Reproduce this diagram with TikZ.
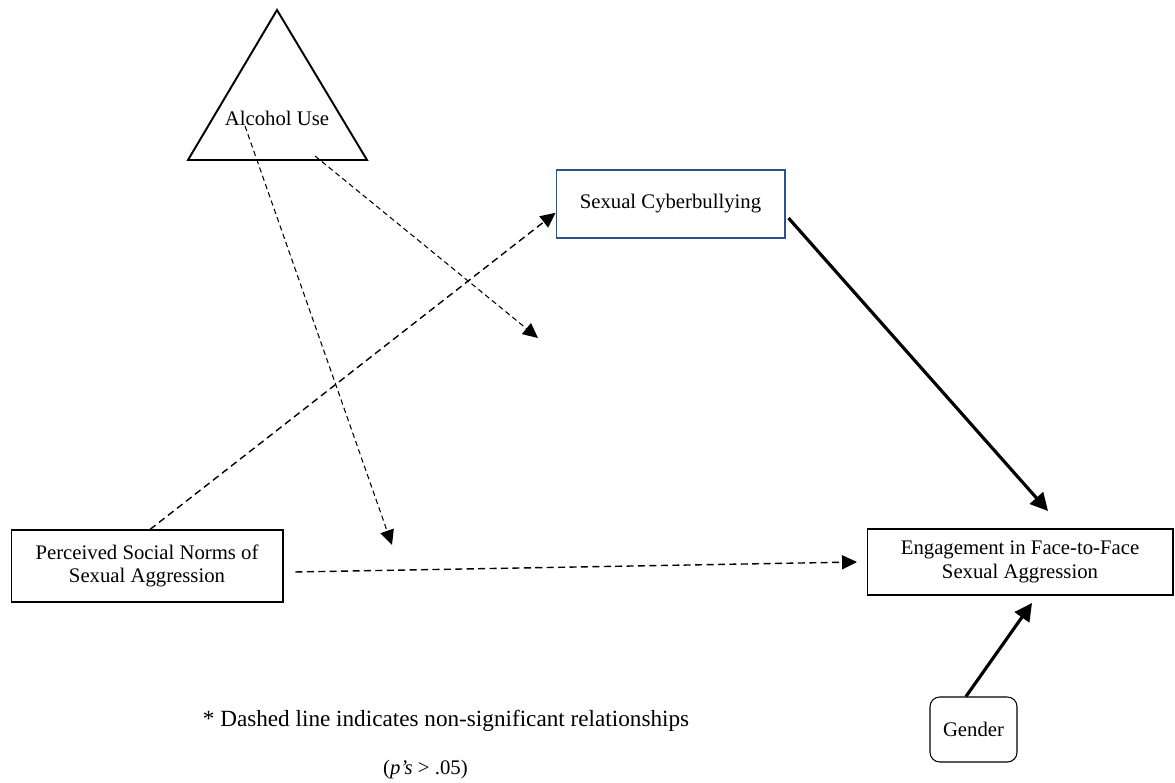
\documentclass[tikz,border=0pt]{standalone}
\usepackage{fontspec}
\setmainfont{Liberation Serif}
\usetikzlibrary{arrows.meta}
\definecolor{boxblue}{RGB}{47,82,143}
\tikzset{
	txt/.style={font=\fontsize{11.8}{13.5}\selectfont},
	box/.style={txt,draw,line width=0.6pt,align=center,inner sep=0pt},
	nsthin/.style={line width=0.6pt,dash pattern=on 3pt off 2pt,-{Triangle[length=8.5pt,width=8pt]}},
	ns/.style={line width=0.8pt,dash pattern=on 4pt off 2.5pt,-{Triangle[length=8.5pt,width=8pt]}},
	sig/.style={line width=1.8pt,-{Triangle[length=10pt,width=10pt]}}
}
\begin{document}
\begin{tikzpicture}[x=0.02cm,y=-0.02cm]
	\useasboundingbox (0,0) rectangle (1175,783);
	\coordinate (apex) at (277,10);
	\coordinate (bl) at (188,160);
	\coordinate (br) at (367,160);
	\draw[line width=1.1pt] (apex) -- (bl) -- (br) -- cycle;
	\node[txt] (alcohol) at (277,118) {Alcohol Use};
	\node[box,draw=boxblue,minimum width=4.58cm,minimum height=1.36cm] (cyber) at (670.5,204) {Sexual Cyberbullying};
	\node[box,minimum width=5.44cm,minimum height=1.44cm] (norms) at (147,566) {Perceived Social Norms of\\Sexual Aggression};
	\node[box,minimum width=6.12cm,minimum height=1.32cm] (engage) at (1020,562) {Engagement in Face-to-Face\\Sexual Aggression};
	\node[box,rounded corners=5.5pt,minimum width=1.74cm,minimum height=1.3cm] (gender) at (973.5,729.5) {Gender};
	\node[font=\fontsize{13.2}{15}\selectfont] (note) at (446,721) {* Dashed line indicates non-significant relationships};
	\node[txt,anchor=west] (pval) at (377,770) {(\textit{p’s} > .05)};
	\coordinate (a1) at (245,126);
	\coordinate (a2) at (315,156);
	\coordinate (t1) at (392,545);
	\coordinate (t2) at (538,338);
	\coordinate (t3) at (857,562);
	\coordinate (t4) at (1048,511);
	\coordinate (t5) at (1032,603);
	\draw[nsthin] (a1) -- (t1);
	\draw[nsthin] (a2) -- (t2);
	\draw[ns] ([xshift=1.7pt]norms.north) -- ([yshift=-5pt]cyber.west);
	\draw[ns] ([xshift=6.8pt,yshift=-3.4pt]norms.east) -- (t3);
	\draw[sig] ([xshift=1.7pt,yshift=-8pt]cyber.east) -- (t4);
	\draw[sig] ([xshift=-4.3pt]gender.north) -- (t5);
\end{tikzpicture}
\end{document}
